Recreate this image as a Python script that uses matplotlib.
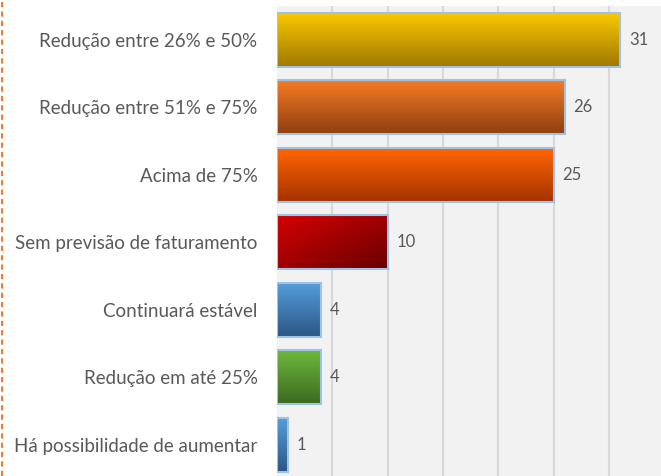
import numpy as np
import matplotlib
matplotlib.use("Agg")
import matplotlib.pyplot as plt
from matplotlib.colors import LinearSegmentedColormap
from matplotlib.lines import Line2D

categories = ['Redução entre 26% e 50%', 'Redução entre 51% e 75%', 'Acima de 75%',
              'Sem previsão de faturamento', 'Continuará estável',
              'Redução em até 25%', 'Há possibilidade de aumentar']
values = [31, 26, 25, 10, 4, 4, 1]
top_colors = ['#fac800', '#f67b26', '#ff6600', '#d40000', '#559dda', '#6cb83c', '#559dda']
bottom_colors = ['#a07800', '#8f3f0f', '#a53300', '#6a0000', '#2b5686', '#3d6a21', '#2b5686']
diagonal = [False, False, False, True, False, False, False]

plt.rcParams['font.family'] = ['Lato', 'DejaVu Sans']

fig = plt.figure(figsize=(6.61, 4.76), dpi=100)
ax = fig.add_axes([277 / 661, -0.005, 1 - 277 / 661, 0.992])
ax.set_facecolor('#f2f2f2')

pos = np.arange(len(categories))[::-1]
bars = ax.barh(pos, values, height=0.8, color='none', edgecolor='#9dc3e6',
               linewidth=1.5, zorder=3)

ax.set_xlim(0, 34.7)
ax.set_ylim(-0.5, len(categories) - 0.5)

# gradient fill inside each bar
for bar, c0, c1, diag in zip(bars, top_colors, bottom_colors, diagonal):
    x0, y0 = bar.get_x(), bar.get_y()
    w, h = bar.get_width(), bar.get_height()
    cmap = LinearSegmentedColormap.from_list('g', [c0, c1])
    t = np.linspace(0, 1, 64)
    if diag:
        grad = (t[:, None] + t[None, :]) / 2
    else:
        grad = np.repeat(t[:, None], 2, axis=1)
    ax.imshow(grad, cmap=cmap, extent=(x0, x0 + w, y0, y0 + h), origin='upper',
              aspect='auto', zorder=2, interpolation='bilinear')
    ax.text(x0 + w + 0.8, y0 + h / 2, str(int(w)), va='center', ha='left',
            fontsize=12, color='#595959')

ax.set_xlim(0, 34.7)
ax.set_ylim(-0.5, len(categories) - 0.5)
ax.set_yticks(pos)
ax.set_yticklabels(categories, fontsize=13.5, color='#595959')
ax.tick_params(axis='y', length=0, pad=14)
ax.set_xticks([5, 10, 15, 20, 25, 30])
ax.tick_params(axis='x', length=0, labelbottom=False)
ax.grid(axis='x', color='#d9d9d9', linewidth=1.5, zorder=1)
ax.set_axisbelow(True)
for s in ax.spines.values():
    s.set_visible(False)

fig.add_artist(Line2D([2 / 661, 2 / 661], [0, 1], color='#ed7d31', linewidth=1.5,
                      linestyle=(0, (2.5, 2)), transform=fig.transFigure))

fig.savefig('out.png', dpi=100)
